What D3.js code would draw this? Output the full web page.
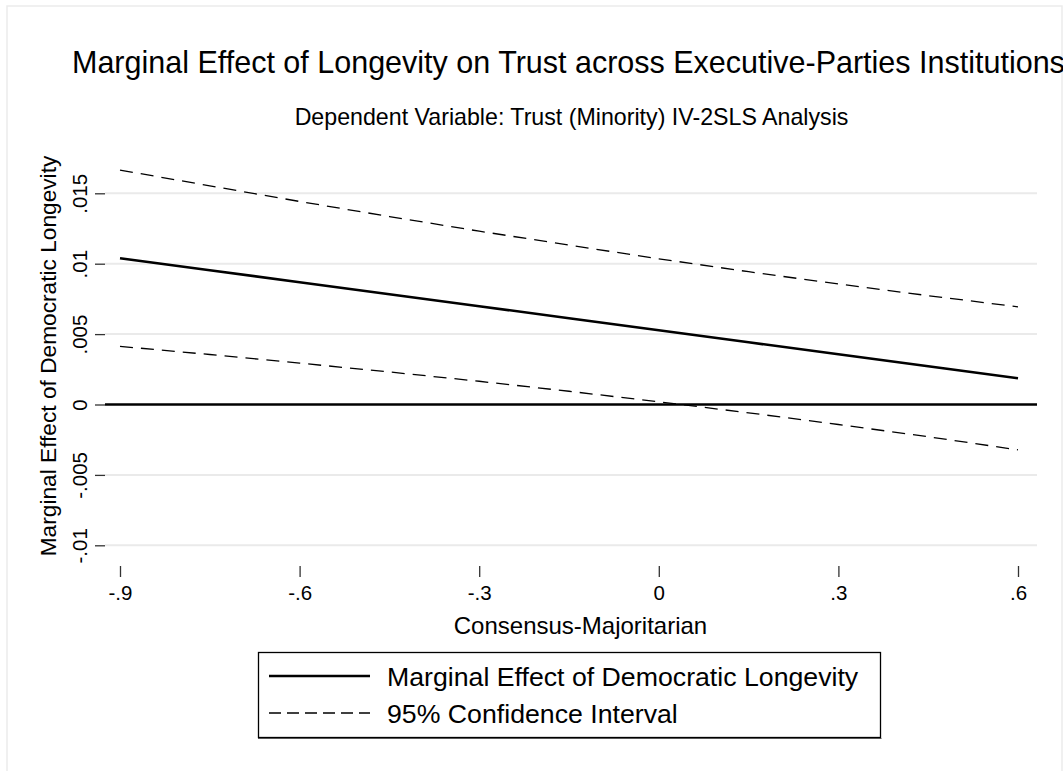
<!DOCTYPE html>
<html>
<head>
<meta charset="utf-8">
<script src="https://cdn.jsdelivr.net/npm/d3@7"></script>
<style>
  html, body { margin: 0; padding: 0; background: #ffffff; }
  svg { display: block; font-family: "Liberation Sans", Arial, sans-serif; }
</style>
</head>
<body>
<svg id="chart" width="1063" height="771"></svg>
<script>
// ---- Data ----
const xValues   = [-0.9, -0.75, -0.6, -0.45, -0.3, -0.15, 0, 0.15, 0.3, 0.45, 0.6];
const effect    = [0.01039, 0.00954, 0.00868, 0.00783, 0.00698, 0.00613, 0.00527, 0.00442, 0.00357, 0.00272, 0.00186];
const upperCI   = [0.01665, 0.01553, 0.01442, 0.01335, 0.01231, 0.01132, 0.01035, 0.00943, 0.00856, 0.00773, 0.00694];
const lowerCI   = [0.00413, 0.00355, 0.00294, 0.00231, 0.00165, 0.00094, 0.00019, -0.00059, -0.00142, -0.00229, -0.00322];
const yTicks    = [-0.01, -0.005, 0, 0.005, 0.01, 0.015];
const yTickLabels = ["-.01", "-.005", "0", ".005", ".01", ".015"];
const xTicks    = [-0.9, -0.6, -0.3, 0, 0.3, 0.6];
const xTickLabels = ["-.9", "-.6", "-.3", "0", ".3", ".6"];
const titleText = "Marginal Effect of Longevity on Trust across Executive-Parties Institutions";
const subtitleText = "Dependent Variable: Trust (Minority) IV-2SLS Analysis";
const xTitle = "Consensus-Majoritarian";
const yTitle = "Marginal Effect of Democratic Longevity";
const legendLabels = ["Marginal Effect of Democratic Longevity", "95% Confidence Interval"];

// ---- Layout ----
const svg = d3.select("#chart");
const plotLeft = 105, plotRight = 1037;

const x = d3.scaleLinear().domain([-0.9, 0.6]).range([120, 1018]);
const y = d3.scaleLinear().domain([0, 0.015]).range([404.5, 193.3]);

// outer light frame
svg.append("rect")
  .attr("x", 7).attr("y", 6).attr("width", 1055).attr("height", 800)
  .attr("fill", "#ffffff").attr("stroke", "#ebebeb").attr("stroke-width", 1.5);

// titles
svg.append("text").attr("x", 72).attr("y", 73)
  .attr("font-size", 30.5).attr("fill", "#000").text(titleText);
svg.append("text").attr("x", 571.5).attr("y", 125).attr("text-anchor", "middle")
  .attr("font-size", 23.2).attr("fill", "#000").text(subtitleText);

// gridlines
svg.append("g").selectAll("line").data(yTicks.filter(d => d !== 0)).join("line")
  .attr("x1", plotLeft).attr("x2", plotRight)
  .attr("y1", d => y(d)).attr("y2", d => y(d))
  .attr("stroke", "#eaeaea").attr("stroke-width", 2);

// y axis (ticks + labels, no domain line)
const yAxis = d3.axisLeft(y).tickValues(yTicks)
  .tickFormat((d, i) => yTickLabels[i]).tickSize(10).tickPadding(0);
const yg = svg.append("g").attr("transform", `translate(${plotLeft},0)`).call(yAxis);
yg.select(".domain").remove();
yg.selectAll(".tick line").attr("stroke", "#333").attr("stroke-width", 1.3);
yg.selectAll(".tick text")
  .attr("x", null).attr("dy", null)
  .attr("transform", "translate(-18,0) rotate(-90)")
  .attr("text-anchor", "middle")
  .attr("font-size", 20.5).attr("fill", "#000")
  .attr("font-family", "Liberation Sans, Arial, sans-serif");

// x axis
const xAxis = d3.axisBottom(x).tickValues(xTicks)
  .tickFormat((d, i) => xTickLabels[i]).tickSize(11).tickPadding(8);
const xg = svg.append("g").attr("transform", "translate(0,566)").call(xAxis);
xg.select(".domain").remove();
xg.selectAll(".tick line").attr("stroke", "#333").attr("stroke-width", 1.3);
xg.selectAll(".tick text").attr("font-size", 20.5).attr("fill", "#000")
  .attr("font-family", "Liberation Sans, Arial, sans-serif");

// axis titles
svg.append("text").attr("x", 580.5).attr("y", 634).attr("text-anchor", "middle")
  .attr("font-size", 24).attr("fill", "#000").text(xTitle);
svg.append("text").attr("transform", "translate(56,356) rotate(-90)")
  .attr("text-anchor", "middle").attr("font-size", 22.7).attr("fill", "#000").text(yTitle);

// zero line
svg.append("line").attr("x1", plotLeft).attr("x2", plotRight)
  .attr("y1", y(0)).attr("y2", y(0))
  .attr("stroke", "#000").attr("stroke-width", 2.6);

// series
const lineGen = vals => d3.line().x((d, i) => x(xValues[i])).y(d => y(d))(vals);
svg.append("path").attr("d", lineGen(upperCI)).attr("fill", "none")
  .attr("stroke", "#000").attr("stroke-width", 1.3).attr("stroke-dasharray", "13,8");
svg.append("path").attr("d", lineGen(lowerCI)).attr("fill", "none")
  .attr("stroke", "#000").attr("stroke-width", 1.3).attr("stroke-dasharray", "13,8");
svg.append("path").attr("d", lineGen(effect)).attr("fill", "none")
  .attr("stroke", "#000").attr("stroke-width", 2.6);

// legend
const lg = svg.append("g");
lg.append("rect").attr("x", 258.5).attr("y", 652.5).attr("width", 622).attr("height", 85)
  .attr("fill", "#fff").attr("stroke", "#000").attr("stroke-width", 1.3);
lg.append("line").attr("x1", 258).attr("x2", 881.5).attr("y1", 738.5).attr("y2", 738.5)
  .attr("stroke", "#555").attr("stroke-width", 1.2);
lg.append("line").attr("x1", 269).attr("x2", 370).attr("y1", 676).attr("y2", 676)
  .attr("stroke", "#000").attr("stroke-width", 2.6);
lg.append("line").attr("x1", 269).attr("x2", 370).attr("y1", 713).attr("y2", 713)
  .attr("stroke", "#000").attr("stroke-width", 1.3).attr("stroke-dasharray", "12,6");
lg.selectAll("text.leg").data(legendLabels).join("text").attr("class", "leg")
  .attr("x", 387).attr("y", (d, i) => 685.5 + i * 37)
  .attr("font-size", 26.7).attr("fill", "#000").text(d => d);
</script>
</body>
</html>
